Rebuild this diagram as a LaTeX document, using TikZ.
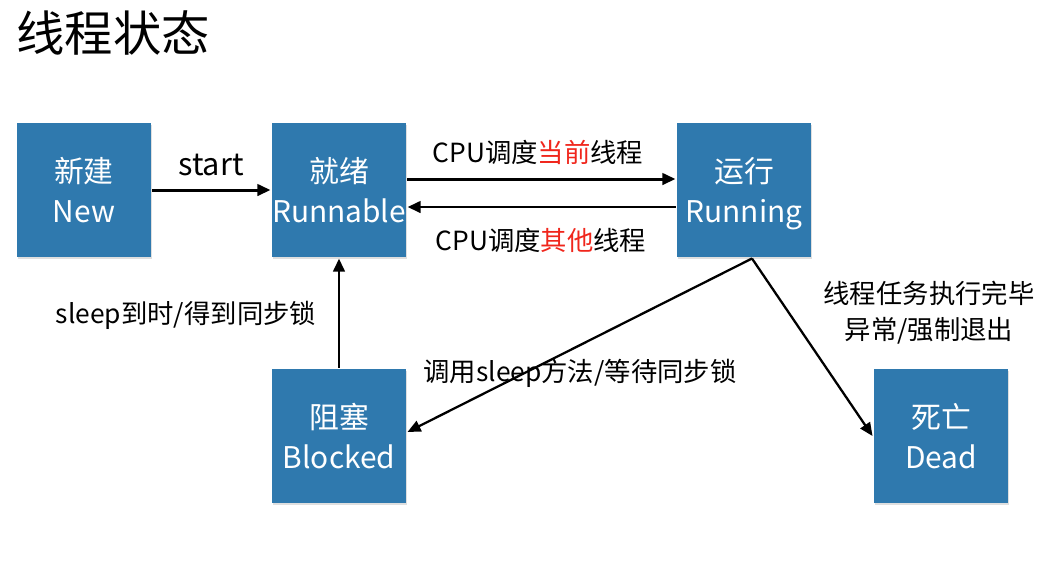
\documentclass[tikz,border=0pt]{standalone}
\usepackage{fontspec}
\setmainfont{Noto Sans CJK SC}
\usepackage{tikz}
\usetikzlibrary{arrows.meta,shadows,positioning}
\definecolor{stateblue}{RGB}{47,121,174}
\definecolor{hotred}{RGB}{240,38,28}

\begin{document}
\begin{tikzpicture}[x=0.02cm, y=-0.02cm, line width=1.7pt, >={Triangle[length=7.5pt,width=6.5pt]}]
   \useasboundingbox (0,0) rectangle (1063,583);
   \node (title) [anchor=west, inner sep=0pt, font=\fontsize{27.5}{30}\selectfont] at (15,33) {线程状态};
   \begin{scope}[every node/.style={rectangle, fill=stateblue, text=white, minimum size=2.68cm, inner sep=0pt, align=center, font=\fontsize{17}{23}\selectfont, drop shadow={opacity=0.25, shadow xshift=0.6pt, shadow yshift=-1.2pt}}]
    \node (new) at (84,190) {新建\\New};
    \node (runnable) at (339,190) {就绪\\Runnable};
    \node (running) at (744,190) {运行\\Runnin\smash{g}};
    \node (blocked) at (339,436) {阻塞\\Blocked};
    \node (dead) at (941,436) {死亡\\Dead};
   \end{scope}
   \begin{scope}[every node/.style={font=\fontsize{15}{20.4}\selectfont, inner sep=0pt, align=center}]
    \node (startlbl) [font=\fontsize{17.5}{20}\selectfont] at (211,165) {start};
    \node (nowlbl) at (538,152) {CPU调度\textcolor{hotred}{当前}线程};
    \node (otherlbl) at (541,240) {CPU调度\textcolor{hotred}{其他}线程};
    \node (wakelbl) at (186,315) {sleep到时/得到同步锁};
    \node (sleeplbl) at (580,373) {调用sleep方法/等待同步锁};
    \node (endlbl) at (929,313) {线程任务执行完毕\\异常/强制退出};
   \end{scope}
   \begin{scope}[->]
    \draw (new) -- (runnable);
    \draw ([yshift=0.22cm]runnable.east) -- ([yshift=0.22cm]running.west);
    \draw ([yshift=-0.34cm]running.west) -- ([yshift=-0.34cm]runnable.east);
    \draw (blocked) -- (runnable);
    \draw [line width=1.3pt] ([xshift=0.16cm]running.south) -- ([yshift=0.08cm]blocked.east);
    \draw [line width=1.3pt] ([xshift=0.16cm]running.south) -- (dead.west);
   \end{scope}
\end{tikzpicture}
\end{document}
